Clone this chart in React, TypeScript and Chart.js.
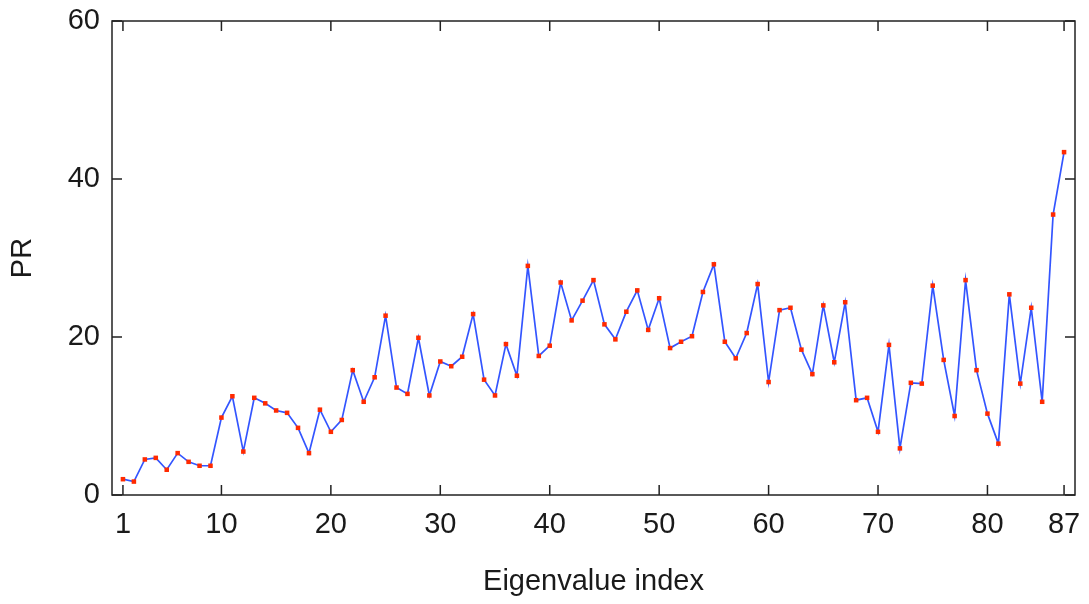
import React, { useEffect, useRef } from "react";
import { Chart, registerables } from "chart.js";

Chart.register(...registerables);

// Participation ratio for each eigenvalue index (1..87)
const PR_VALUES = [
  2.0, 1.7, 4.5, 4.7, 3.2, 5.3, 4.2, 3.7, 3.7, 9.8,
  12.5, 5.5, 12.3, 11.6, 10.7, 10.4, 8.5, 5.3, 10.8, 8.0,
  9.5, 15.8, 11.8, 14.9, 22.7, 13.6, 12.8, 19.9, 12.6, 16.9,
  16.3, 17.5, 22.9, 14.6, 12.6, 19.1, 15.1, 29.0, 17.6, 18.9,
  26.9, 22.1, 24.6, 27.2, 21.6, 19.7, 23.2, 25.9, 20.9, 24.9,
  18.6, 19.4, 20.1, 25.7, 29.2, 19.4, 17.3, 20.5, 26.7, 14.3,
  23.4, 23.7, 18.4, 15.3, 24.0, 16.8, 24.4, 12.0, 12.3, 8.0,
  19.0, 5.9, 14.2, 14.1, 26.5, 17.1, 10.0, 27.2, 15.8, 10.3,
  6.5, 25.4, 14.1, 23.7, 11.8, 35.5, 43.4,
];
const X_TICKS = [1, 10, 20, 30, 40, 50, 60, 70, 80, 87];
const Y_TICKS = [0, 20, 40, 60];
const X_TITLE = "Eigenvalue index";
const Y_TITLE = "PR";

const FONT = { family: "'Liberation Sans', Arial, sans-serif", size: 29 };
const TEXT_COLOR = "#1a1a1a";
const FRAME_COLOR = "#222222";

const framePlugin = {
  id: "gnuplotFrame",
  afterDraw(chart: any) {
    const { ctx, chartArea, scales } = chart;
    const { left, right, top, bottom } = chartArea;
    ctx.save();
    ctx.strokeStyle = FRAME_COLOR;
    ctx.lineWidth = 1.5;
    ctx.strokeRect(left, top, right - left, bottom - top);
    const L = 10;
    ctx.beginPath();
    X_TICKS.forEach((v) => {
      const px = scales.x.getPixelForValue(v);
      ctx.moveTo(px, bottom);
      ctx.lineTo(px, bottom - L);
      ctx.moveTo(px, top);
      ctx.lineTo(px, top + L);
    });
    Y_TICKS.forEach((v) => {
      const py = scales.y.getPixelForValue(v);
      ctx.moveTo(left, py);
      ctx.lineTo(left + L, py);
      ctx.moveTo(right, py);
      ctx.lineTo(right - L, py);
    });
    ctx.stroke();
    ctx.restore();
  },
};

export default function App() {
  const canvasRef = useRef<HTMLCanvasElement | null>(null);

  useEffect(() => {
    if (!canvasRef.current) return;
    const points = PR_VALUES.map((y, i) => ({ x: i + 1, y }));
    const chart = new Chart(canvasRef.current, {
      type: "line",
      data: {
        datasets: [
          {
            data: points,
            borderColor: "#3355ff",
            borderWidth: 1.7,
            backgroundColor: "#ff2a00",
            pointBackgroundColor: "#ff2a00",
            pointBorderWidth: 0,
            pointStyle: "rect",
            pointRadius: 3.2,
            tension: 0,
            fill: false,
          },
        ],
      },
      options: {
        animation: false,
        responsive: false,
        layout: { padding: { top: 21, right: 14, left: 0, bottom: 0 } },
        plugins: {
          legend: { display: false },
          tooltip: { enabled: false },
        },
        scales: {
          x: {
            type: "linear",
            min: 0,
            max: 88,
            afterBuildTicks: (s: any) => {
              s.ticks = X_TICKS.map((value) => ({ value }));
            },
            afterFit: (s: any) => {
              s.height = 109;
              s.paddingLeft = 0;
              s.paddingRight = 0;
            },
            ticks: {
              font: FONT,
              color: TEXT_COLOR,
              padding: 13,
              maxRotation: 0,
              autoSkip: false,
              callback: (v: any) => String(v),
            },
            grid: { display: false, drawTicks: false },
            border: { display: false },
            title: {
              display: true,
              text: X_TITLE,
              font: FONT,
              color: TEXT_COLOR,
              padding: { top: 0, bottom: 5 },
            },
          },
          y: {
            type: "linear",
            min: 0,
            max: 60,
            afterBuildTicks: (s: any) => {
              s.ticks = Y_TICKS.map((value) => ({ value }));
            },
            afterFit: (s: any) => {
              s.width = 112;
              s.paddingTop = 0;
              s.paddingBottom = 0;
            },
            ticks: {
              font: FONT,
              color: TEXT_COLOR,
              padding: 12,
              callback: (v: any) => String(v),
            },
            grid: { display: false, drawTicks: false },
            border: { display: false },
            title: {
              display: true,
              text: Y_TITLE,
              font: FONT,
              color: TEXT_COLOR,
              padding: { top: 6, bottom: 0 },
            },
          },
        },
      },
      plugins: [framePlugin],
    });
    return () => chart.destroy();
  }, []);

  return (
    <div
      style={{
        position: "fixed",
        left: 0,
        top: 0,
        width: 1089,
        height: 604,
        background: "#ffffff",
      }}
    >
      <canvas ref={canvasRef} width={1089} height={604} style={{ display: "block" }} />
    </div>
  );
}
